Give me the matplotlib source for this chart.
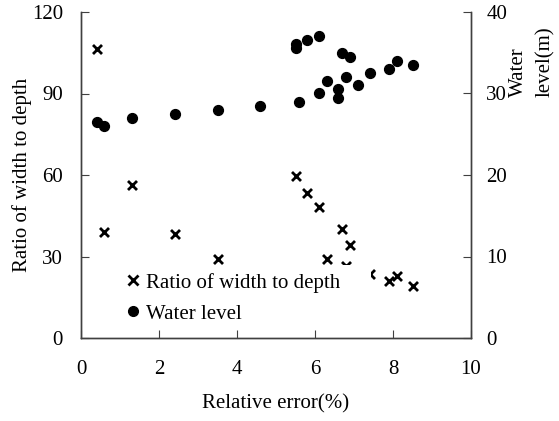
import matplotlib
matplotlib.use('Agg')
import matplotlib.pyplot as plt
from matplotlib.lines import Line2D
from matplotlib.patches import Rectangle

plt.rcParams['font.family'] = ['Liberation Serif', 'DejaVu Serif']
plt.rcParams['font.size'] = 15

# Ratio of width to depth (left axis)
ratio_err = [0.4, 0.6, 1.3, 2.4, 3.5, 5.5, 5.8, 6.1, 6.7, 6.9, 6.3, 6.8, 7.4, 7.9, 8.1, 8.5]
ratio_val = [106.5, 39.2, 56.2, 38.3, 29.2, 59.8, 53.5, 48.2, 40.2, 34.3, 29.1, 26.5, 23.6, 21.1, 22.9, 19.3]

# Water level (right axis)
level_err = [0.4, 0.6, 1.3, 2.4, 3.5, 4.6, 5.5, 5.5, 5.8, 6.1, 6.7, 6.9,
             5.6, 6.1, 6.3, 6.6, 6.6, 6.8, 7.1, 7.4, 7.9, 8.1, 8.5]
level_val = [26.5, 26.0, 27.0, 27.5, 28.0, 28.5, 36.1, 35.6, 36.6, 37.0, 35.0, 34.5,
             29.0, 30.0, 31.5, 30.6, 29.5, 32.0, 31.0, 32.5, 33.0, 34.0, 33.5]

axis_color = '#404040'

fig = plt.figure(figsize=(5.59, 4.21), dpi=100)
ax1 = fig.add_axes([81/559, 1 - 338/421, 390/559, 326/421])
ax2 = ax1.twinx()

ax1.scatter(ratio_err, ratio_val, marker='x', s=42, linewidths=2, color='black', zorder=3)
ax2.scatter(level_err, level_val, marker='o', s=50, color='black', zorder=3)

ax1.set_xlim(0, 10)
ax1.set_ylim(0, 120)
ax2.set_ylim(0, 40)
ax1.set_xticks([0, 2, 4, 6, 8, 10])
ax1.set_yticks([0, 30, 60, 90, 120])
ax2.set_yticks([0, 10, 20, 30, 40])

for ax in (ax1, ax2):
    ax.spines['top'].set_visible(False)
    for s in ('left', 'right', 'bottom'):
        ax.spines[s].set_color(axis_color)
        ax.spines[s].set_linewidth(1.0)

ax1.tick_params(axis='x', direction='in', length=6, pad=16, color=axis_color)
ax1.tick_params(axis='y', direction='in', length=6, pad=13, color=axis_color)
ax2.tick_params(axis='y', direction='in', length=6, pad=11, color=axis_color)

ax1.set_xlabel('Relative error(%)', labelpad=11)
ax1.set_ylabel('Ratio of width to depth', labelpad=0)
fig.text(532/559, 1 - 97/421, 'Water\nlevel(m)', rotation=90, ha='center', va='bottom',
         multialignment='left', linespacing=1.55)

# white box behind the legend hides the marks under it
ax2.add_patch(Rectangle((0.113, 0.03), 0.63, 0.195, transform=ax2.transAxes,
                        facecolor='white', edgecolor='none', zorder=5))

handles = [Line2D([], [], marker='x', linestyle='none', color='black', markersize=6.5, markeredgewidth=2),
           Line2D([], [], marker='o', linestyle='none', color='black', markersize=7)]
leg = ax2.legend(handles, ['Ratio of width to depth', 'Water level'],
                 loc='upper left', bbox_to_anchor=(0.118, 0.2), frameon=False,
                 borderpad=0, borderaxespad=0,
                 handlelength=0.6, handletextpad=0.3, labelspacing=0.55)
leg.set_zorder(10)

fig.savefig('out.png', dpi=100)
